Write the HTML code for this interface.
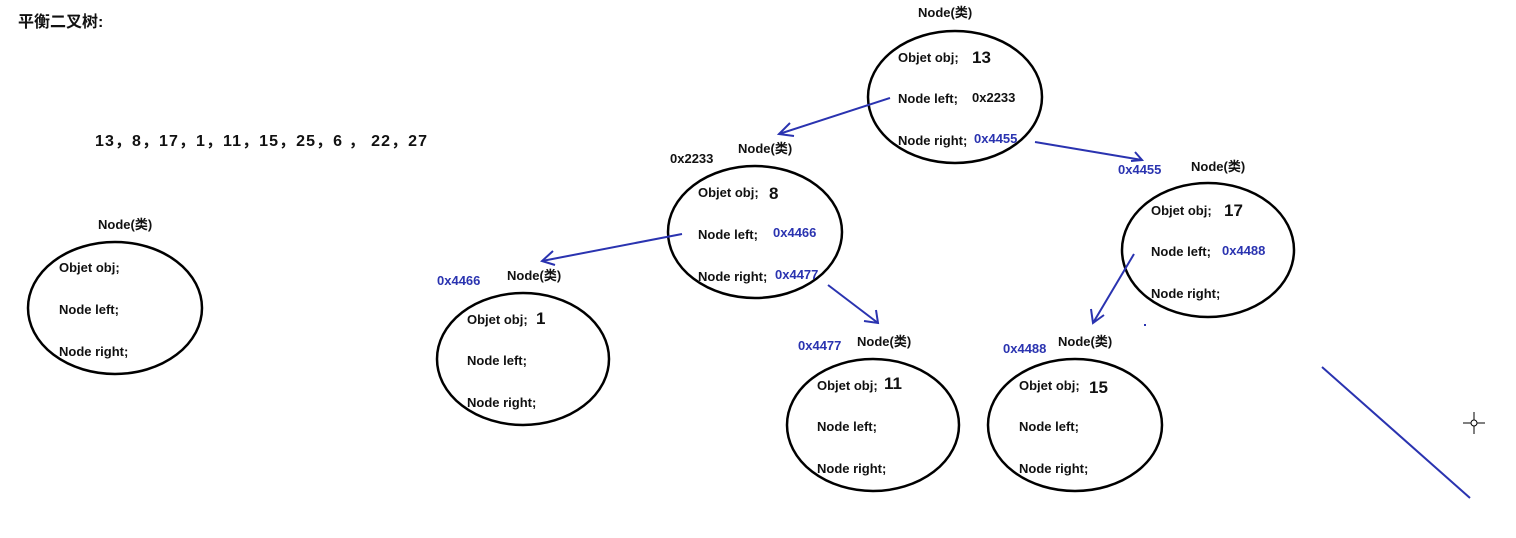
<!DOCTYPE html>
<html><head><meta charset="utf-8"><style>
body{margin:0;background:#fff;}
svg{display:block;}
text{font-family:"Liberation Sans","Noto Sans CJK SC",sans-serif;font-weight:bold;font-size:13px;fill:#111;}
.b{fill:#2a33b0;}
.n{font-size:17px;}
</style></head><body>
<svg width="1516" height="538" viewBox="0 0 1516 538">
<g fill="none" stroke="#000" stroke-width="2.5">
<ellipse cx="115" cy="308" rx="87" ry="66"/>
<ellipse cx="955" cy="97" rx="87" ry="66"/>
<ellipse cx="755" cy="232" rx="87" ry="66"/>
<ellipse cx="1208" cy="250" rx="86" ry="67"/>
<ellipse cx="523" cy="359" rx="86" ry="66"/>
<ellipse cx="873" cy="425" rx="86" ry="66"/>
<ellipse cx="1075" cy="425" rx="87" ry="66"/>
</g>
<g stroke="#2a33b0" stroke-width="2" fill="none">
<line x1="890" y1="98" x2="779" y2="134"/><polyline points="790,123 779,134 794,136"/>
<line x1="1035" y1="142" x2="1142" y2="160"/><polyline points="1135,152 1142,160 1131,161"/>
<line x1="682" y1="234" x2="542" y2="261"/><polyline points="553,251 542,261 555,265"/>
<line x1="828" y1="285" x2="878" y2="323"/><polyline points="864,321 878,323 876,310"/>
<line x1="1134" y1="254" x2="1093" y2="323"/><polyline points="1091,309 1093,323 1104,315"/>
<line x1="1322" y1="367" x2="1470" y2="498"/>
</g>
<g stroke="#000" stroke-width="1"><line x1="1463" y1="423" x2="1485" y2="423"/><line x1="1474" y1="412" x2="1474" y2="434"/></g>
<circle cx="1474" cy="423" r="3" fill="#fff" stroke="#000"/>
<text x="18" y="27" style="font-size:16px">平衡二叉树:</text>
<text x="95" y="146" style="font-size:16px" textLength="332" lengthAdjust="spacing">13，8，17，1，11，15，25，6 ，  22，27</text>
<text x="98" y="229">Node(类)</text>
<text x="59" y="272">Objet obj;</text><text x="59" y="314">Node left;</text><text x="59" y="356">Node right;</text>
<text x="918" y="17">Node(类)</text>
<text x="898" y="62">Objet obj;</text><text x="972" y="63" class="n">13</text>
<text x="898" y="103">Node left;</text><text x="972" y="102">0x2233</text>
<text x="898" y="145">Node right;</text><text x="974" y="143" class="b">0x4455</text>
<text x="738" y="153">Node(类)</text><text x="670" y="163">0x2233</text>
<text x="698" y="197">Objet obj;</text><text x="769" y="199" class="n">8</text>
<text x="698" y="239">Node left;</text><text x="773" y="237" class="b">0x4466</text>
<text x="698" y="281">Node right;</text><text x="775" y="279" class="b">0x4477</text>
<text x="1118" y="174" class="b">0x4455</text><text x="1191" y="171">Node(类)</text>
<text x="1151" y="215">Objet obj;</text><text x="1224" y="216" class="n">17</text>
<text x="1151" y="256">Node left;</text><text x="1222" y="255" class="b">0x4488</text>
<text x="1151" y="298">Node right;</text>
<text x="437" y="285" class="b">0x4466</text><text x="507" y="280">Node(类)</text>
<text x="467" y="324">Objet obj;</text><text x="536" y="324" class="n">1</text>
<text x="467" y="365">Node left;</text><text x="467" y="407">Node right;</text>
<text x="798" y="350" class="b">0x4477</text><text x="857" y="346">Node(类)</text>
<text x="817" y="390">Objet obj;</text><text x="884" y="389" class="n">11</text>
<text x="817" y="431">Node left;</text><text x="817" y="473">Node right;</text>
<text x="1003" y="353" class="b">0x4488</text><text x="1058" y="346">Node(类)</text>
<text x="1019" y="390">Objet obj;</text><text x="1089" y="393" class="n">15</text>
<text x="1019" y="431">Node left;</text><text x="1019" y="473">Node right;</text>
<rect x="1144" y="324" width="2" height="2" fill="#2a33b0"/>
</svg>
</body></html>
